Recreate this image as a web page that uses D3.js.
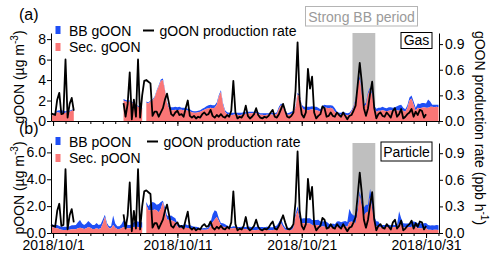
<!DOCTYPE html>
<html>
<head>
<meta charset="UTF-8">
<script src="https://cdn.jsdelivr.net/npm/d3@7/dist/d3.min.js"></script>
<style>
  html, body { margin: 0; padding: 0; background: #fff; }
  svg { display: block; font-family: "Liberation Sans", Arial, sans-serif; }
</style>
</head>
<body>
<div id="chart"></div>
<script>
// series are 4-hourly, first sample 2018/9/30 20:00
const startTime = new Date(2018, 8, 30, 20);
const stepHours = 4;
const endTime = new Date(2018, 10, 1, 1);
const strongBB = [new Date(2018, 9, 25, 2), new Date(2018, 9, 26, 22)];
const dateLabels = [new Date(2018, 9, 1), new Date(2018, 9, 11), new Date(2018, 9, 21), new Date(2018, 9, 31)];
const gTicks = [0, 2, 4, 6, 8];
const pTicks = [0, 2, 4, 6];
const rateTicks = [0, 0.3, 0.6, 0.9];

const _ = null; // no data

// gOON (ug m-3)
const gSec = [
  0.5,0.55,0.7,0.85,0.8,0.75,0.75,0.8,0.85,0.9,
  1.0,1.1,_,_,_,_,_,_,_,_,
  _,_,_,_,_,_,_,_,_,_,
  _,_,_,_,_,2.0,1.9,1.85,1.9,1.8,
  1.6,1.5,1.4,1.3,1.2,_,1.8,1.7,1.9,2.0,
  2.3,2.9,3.4,3.9,4.0,3.0,1.7,1.2,1.05,1.05,
  1.1,1.0,1.1,1.1,1.05,1.1,1.0,0.95,0.85,0.8,
  0.8,0.85,0.9,1.0,1.1,1.2,1.25,1.3,1.25,1.3,
  1.6,2.4,2.85,1.6,0.9,0.65,0.6,0.55,0.6,0.65,
  0.6,0.55,0.6,0.65,0.7,0.7,0.75,0.75,0.8,0.75,
  0.7,0.6,0.6,0.55,0.6,0.6,0.65,0.6,0.6,0.7,
  1.2,1.55,1.4,0.8,0.6,0.6,0.7,0.8,1.3,2.6,
  2.4,1.4,1.1,1.1,1.05,1.1,1.15,1.1,1.05,1.0,
  0.9,1.2,1.3,1.3,1.25,1.3,1.2,0.9,0.7,0.6,
  0.6,0.65,0.6,0.55,0.6,0.9,1.3,2.0,3.3,4.1,
  2.5,1.4,1.6,2.6,3.1,2.5,1.3,0.9,1.0,1.0,
  1.05,1.0,0.95,1.0,1.05,1.0,1.0,1.05,1.0,1.1,
  1.0,0.9,1.3,2.0,2.2,1.6,1.0,1.3,1.25,1.3,
  1.35,1.3,1.3,1.4,1.4,1.35,1.4,1.35
];
const gBB = [
  0.1,0.1,0.1,0.15,0.25,0.3,0.25,0.15,0.1,0.1,
  0.1,0.05,_,_,_,_,_,_,_,_,
  _,_,_,_,_,_,_,_,_,_,
  _,_,_,_,_,0.15,0.15,0.15,0.1,0.1,
  0.1,0.1,0.1,0.1,0.1,_,0.1,0.1,0.1,0.1,
  0.1,0.1,0.1,0.15,0.15,0.1,0.1,0.2,0.3,0.3,
  0.3,0.35,0.3,0.2,0.25,0.2,0.2,0.2,0.15,0.15,
  0.15,0.15,0.15,0.2,0.2,0.25,0.3,0.3,0.3,0.25,
  0.2,0.15,0.15,0.15,0.15,0.2,0.2,0.25,0.2,0.15,
  0.2,0.25,0.2,0.2,0.15,0.2,0.15,0.15,0.1,0.15,
  0.15,0.15,0.15,0.2,0.15,0.15,0.15,0.2,0.15,0.15,
  0.2,0.15,0.15,0.15,0.15,0.2,0.2,0.2,0.15,0.15,
  0.15,0.2,0.3,0.3,0.35,0.3,0.3,0.3,0.35,0.3,
  0.25,0.3,0.3,0.25,0.3,0.25,0.3,0.35,0.2,0.2,
  0.2,0.25,0.2,0.2,0.2,0.15,0.15,0.15,0.2,0.3,
  0.3,0.2,0.2,0.2,0.2,0.2,0.2,0.3,0.3,0.3,
  0.35,0.3,0.3,0.35,0.3,0.3,0.35,0.4,0.55,0.5,
  0.3,0.25,0.25,0.3,0.3,0.3,0.3,0.4,0.4,0.45,
  0.4,0.4,0.8,0.5,0.2,0.25,0.2,0.25
];

// pOON (ug m-3)
const pSec = [
  0.42,0.42,0.38,0.35,0.3,0.25,0.22,0.22,0.25,0.25,
  0.28,0.28,0.28,0.35,0.4,0.35,0.3,0.35,0.45,0.4,
  0.3,0.3,0.35,0.3,0.35,0.7,1.2,0.6,0.35,0.35,
  0.6,0.4,0.3,0.3,0.35,0.45,0.4,0.35,0.35,0.35,
  0.45,0.47,0.45,0.4,0.4,_,2.1,1.7,1.7,1.7,
  1.75,1.7,1.55,1.8,2.3,1.6,1.0,0.97,0.95,0.9,
  0.8,0.5,0.4,0.37,0.37,0.4,0.37,0.35,0.33,0.3,
  0.3,0.28,0.25,0.25,0.25,0.25,0.3,0.5,0.8,1.0,
  1.2,0.9,0.55,0.47,0.45,0.4,0.35,0.33,0.35,0.37,
  0.35,0.33,0.35,0.3,0.3,0.25,0.22,0.22,0.2,0.22,
  0.25,0.22,0.2,0.22,0.25,0.22,0.2,0.22,0.25,0.3,
  0.5,0.72,0.45,0.25,0.22,0.22,0.22,0.4,1.2,1.7,
  1.0,0.72,0.72,0.7,0.72,0.7,0.6,0.62,0.6,0.58,
  0.47,0.5,0.47,0.45,0.45,0.42,0.45,0.45,0.47,0.47,
  0.45,0.47,0.5,0.47,0.8,0.85,0.8,0.75,1.6,2.8,
  2.0,1.3,1.5,1.6,2.7,1.8,0.75,0.5,0.47,0.42,
  0.4,0.42,0.45,0.42,0.4,0.42,0.45,0.42,0.72,0.6,
  0.42,0.4,0.42,0.42,0.47,0.45,0.47,0.35,0.35,0.33,
  0.35,0.35,0.25,0.25,0.22,0.25,0.25,0.22
];
const pBB = [
  0.23,0.2,0.22,0.25,0.22,0.22,0.25,0.25,0.2,0.25,
  0.3,0.3,0.32,0.45,0.57,0.35,0.3,0.35,0.45,0.35,
  0.3,0.3,0.4,0.3,0.3,0.3,0.15,0.15,0.15,0.15,
  0.7,0.3,0.2,0.2,0.3,0.5,0.4,0.25,0.25,0.3,
  0.35,0.4,0.4,0.4,0.4,_,0.2,0.3,0.5,0.6,
  0.5,0.4,0.6,0.5,0.1,0.3,0.3,0.3,0.35,0.3,
  0.3,0.2,0.2,0.2,0.25,0.25,0.2,0.25,0.2,0.17,
  0.17,0.15,0.12,0.1,0.12,0.1,0.15,0.3,0.6,0.7,
  0.4,0.2,0.2,0.25,0.2,0.15,0.12,0.12,0.15,0.12,
  0.1,0.12,0.12,0.15,0.15,0.23,0.25,0.2,0.22,0.25,
  0.2,0.22,0.25,0.2,0.22,0.25,0.22,0.2,0.25,0.25,
  0.3,0.38,0.2,0.15,0.18,0.18,0.18,0.15,0.2,0.3,
  0.3,0.35,0.38,0.4,0.38,0.4,0.37,0.35,0.37,0.4,
  0.38,0.35,0.4,0.38,0.25,0.2,0.25,0.2,0.38,0.4,
  0.35,0.38,0.4,0.35,1.0,0.6,0.5,0.55,0.3,0.3,
  0.3,0.6,0.6,0.5,0.6,0.5,0.5,0.38,0.38,0.18,
  0.2,0.18,0.15,0.2,0.18,0.2,0.15,0.2,0.9,0.5,
  0.3,0.3,0.28,0.3,0.38,0.4,0.35,0.37,0.4,0.35,
  0.37,0.4,0.35,0.3,0.35,0.3,0.35,0.35
];

// gOON production rate (ppb h-1)
const rate = [
  0.09,0.08,0.07,0.25,0.33,0.08,0.09,0.72,0.04,0.2,
  0.27,0.12,_,_,_,_,_,_,_,_,
  _,_,_,_,_,_,_,_,_,_,
  _,_,_,_,_,0.21,0.05,0.2,0.57,0.02,
  0.25,0.05,0.72,0.04,0.3,0.47,0.48,0.46,0.44,0.06,
  0.11,0.11,0.05,0.1,0.15,0.25,0.32,0.2,0.08,0.06,
  0.1,0.12,0.07,0.08,0.05,0.15,0.24,0.06,0.04,0.06,
  0.03,0.05,0.04,0.08,0.1,0.07,0.08,0.13,0.06,0.04,
  0.07,0.05,0.08,0.05,0.04,0.07,0.05,0.12,0.47,0.1,
  0.03,0.05,0.04,0.08,0.18,0.06,0.03,0.05,0.08,0.15,
  0.07,0.04,0.03,0.05,0.04,0.06,0.1,0.13,0.05,0.04,
  0.08,0.14,0.2,0.12,0.05,0.04,0.06,0.1,0.35,0.92,
  0.25,0.08,0.04,0.1,0.61,0.38,0.52,0.1,0.03,0.06,
  0.08,0.17,0.15,0.05,0.06,0.1,0.06,0.05,0.1,0.07,
  0.05,0.1,0.06,0.02,0.06,0.07,0.12,0.18,0.42,0.68,
  0.45,0.15,0.06,0.15,0.32,0.46,0.15,0.03,0.08,0.1,
  0.06,0.05,0.1,0.07,0.04,0.12,0.15,0.05,0.08,0.14,
  0.03,0.05,0.08,0.1,0.14,0.05,0.11,0.07,0.13,0.12,
  0.04,0.08,_,_,_,_,_,_
];

const BLUE = '#1f4ff5', RED = '#fa7676', BAND = '#bfbfbf';

const svg = d3.select('#chart').append('svg')
  .attr('width', 500).attr('height', 256);

const x = d3.scaleTime().domain([startTime, endTime]).range([51, 439]);
const times = d3.range(rate.length).map(i => d3.timeHour.offset(startTime, i * stepHours));

const panels = [
  { top: 33, bottom: 121, sec: gSec, bb: gBB, max: 8.6, rmax: 1.03, ticks: gTicks,
    ylab: 'gOON', tag: '(a)', tagY: 20, box: 'Gas', bbName: 'BB gOON', secName: 'Sec. gOON',
    legY: 26, lineX: 143, showDates: false },
  { top: 143, bottom: 233, sec: pSec, bb: pBB, max: 6.7, rmax: 1.015, ticks: pTicks,
    ylab: 'pOON', tag: '(b)', tagY: 134, box: 'Particle', bbName: 'BB pOON', secName: 'Sec. pOON',
    legY: 137, lineX: 147, showDates: true }
];

panels.forEach(p => {
  const y = d3.scaleLinear().domain([0, p.max]).range([p.bottom, p.top]);
  const yr = d3.scaleLinear().domain([0, p.rmax]).range([p.bottom, p.top]);
  const rows = times.map((t, i) => ({ t, sec: p.sec[i], bb: p.bb[i], rate: rate[i] }));
  const g = svg.append('g');

  // strong BB shading
  g.append('rect')
    .attr('x', x(strongBB[0])).attr('y', p.top)
    .attr('width', x(strongBB[1]) - x(strongBB[0]))
    .attr('height', p.bottom - p.top)
    .attr('fill', BAND);

  const has = d => d.sec != null && d.bb != null;
  g.append('path').datum(rows)
    .attr('fill', BLUE)
    .attr('d', d3.area().defined(has).x(d => x(d.t)).y0(d => y(d.sec)).y1(d => y(d.sec + d.bb)));
  g.append('path').datum(rows)
    .attr('fill', RED)
    .attr('d', d3.area().defined(has).x(d => x(d.t)).y0(y(0)).y1(d => y(d.sec)));
  g.append('path').datum(rows)
    .attr('fill', 'none').attr('stroke', '#000').attr('stroke-width', 1.8)
    .attr('stroke-linejoin', 'round')
    .attr('d', d3.line().defined(d => d.rate != null).x(d => x(d.t)).y(d => yr(d.rate)));

  // axes
  const left = g.append('g').attr('transform', 'translate(51,0)')
    .call(d3.axisLeft(y).tickValues(p.ticks).tickSize(4).tickSizeOuter(0).tickPadding(1));
  const right = g.append('g').attr('transform', 'translate(439,0)')
    .call(d3.axisRight(yr).tickValues(rateTicks).tickFormat(d3.format('.1f'))
      .tickSize(4).tickSizeOuter(0).tickPadding(2));
  g.append('g').attr('transform', `translate(0,${p.bottom})`)
    .call(d3.axisBottom(x).ticks(d3.timeDay.every(1)).tickFormat('').tickSize(3).tickSizeOuter(0));
  const major = g.append('g').attr('transform', `translate(0,${p.bottom})`)
    .call(d3.axisBottom(x).tickValues(dateLabels).tickFormat(p.showDates ? d3.timeFormat('%Y/%m/%-d') : '')
      .tickSize(5).tickPadding(2));
  major.select('.domain').remove();
  [left, right, major].forEach(a => a.selectAll('text')
    .attr('font-family', '"Liberation Sans", Arial, sans-serif').attr('font-size', 14).attr('fill', '#000'));

  // legend
  g.append('rect').attr('x', 55.5).attr('y', p.legY).attr('width', 5).attr('height', 8).attr('fill', BLUE);
  g.append('rect').attr('x', 55.5).attr('y', p.legY + 17).attr('width', 5).attr('height', 8).attr('fill', RED);
  g.append('text').attr('x', 69).attr('y', p.legY + 9.5).attr('font-size', 14).text(p.bbName);
  g.append('text').attr('x', 69).attr('y', p.legY + 26).attr('font-size', 14).text(p.secName);
  g.append('line').attr('x1', p.lineX).attr('x2', p.lineX + 11)
    .attr('y1', p.legY + 4.5).attr('y2', p.legY + 4.5).attr('stroke', '#000').attr('stroke-width', 2);
  g.append('text').attr('x', p.lineX + 16.5).attr('y', p.legY + 9.5).attr('font-size', 14)
    .text('gOON production rate');

  // phase box
  const bw = p.box === 'Gas' ? 31 : 51;
  const bx = 432 - bw;
  const by = p.top - 0.5 + (p.box === 'Gas' ? 0 : -0.5);
  g.append('rect').attr('x', bx).attr('y', by).attr('width', bw).attr('height', p.box === 'Gas' ? 16 : 19)
    .attr('fill', '#fff').attr('stroke', '#000').attr('stroke-width', 1);
  g.append('text').attr('x', bx + bw / 2).attr('y', by + (p.box === 'Gas' ? 12.5 : 14.5))
    .attr('text-anchor', 'middle').attr('font-size', 14).text(p.box);

  // left axis title
  const lt = g.append('text')
    .attr('transform', `translate(24,${(p.top + p.bottom) / 2}) rotate(-90)`)
    .attr('text-anchor', 'middle').attr('font-size', 14);
  lt.append('tspan').text(p.ylab + ' (\u00b5g m');
  lt.append('tspan').attr('font-size', 10).attr('dy', -6).text('-3');
  lt.append('tspan').attr('dy', 6).text(')');

  // panel tag
  svg.append('text').attr('x', 19).attr('y', p.tagY).attr('font-size', 16).text(p.tag);
});

// right axis title, shared
const rt = svg.append('text')
  .attr('transform', 'translate(475,128) rotate(90)')
  .attr('text-anchor', 'middle').attr('font-size', 14);
rt.append('tspan').text('gOON production rate (ppb h');
rt.append('tspan').attr('font-size', 10).attr('dy', -6).text('-1');
rt.append('tspan').attr('dy', 6).text(')');

// strong BB period label
svg.append('rect').attr('x', 305.5).attr('y', 6.5).attr('width', 112).attr('height', 19.5)
  .attr('fill', '#fff').attr('stroke', '#b4b4b4').attr('stroke-width', 1);
svg.append('text').attr('x', 361.5).attr('y', 21.5).attr('text-anchor', 'middle')
  .attr('font-size', 14).attr('fill', '#9a9a9a').text('Strong BB period');
</script>
</body>
</html>
